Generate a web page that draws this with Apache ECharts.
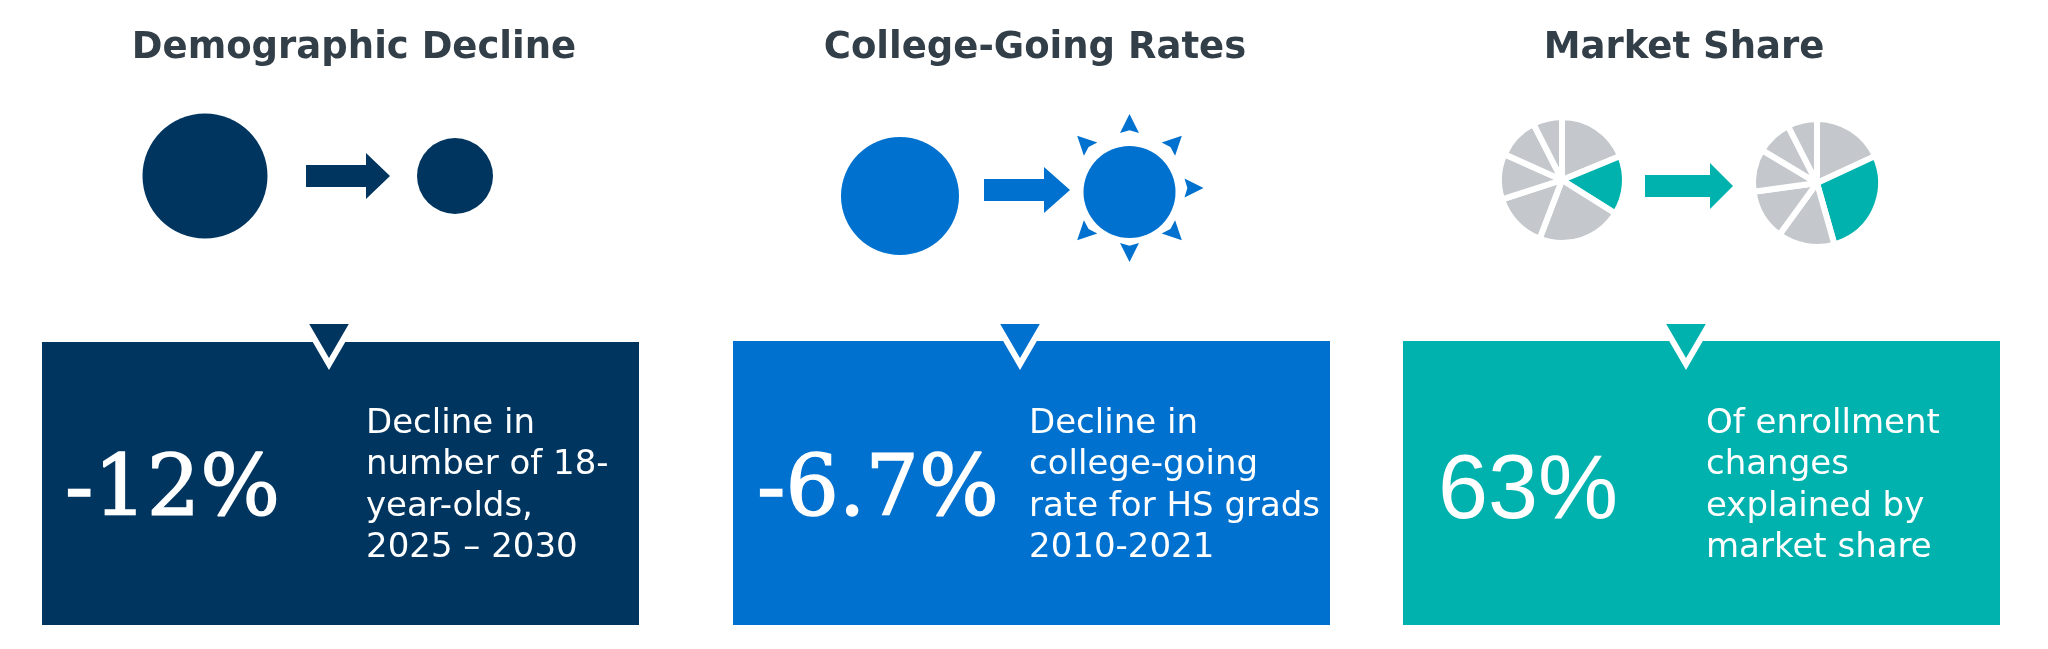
<!DOCTYPE html>
<html><head><meta charset="utf-8">
<style>html,body{margin:0;padding:0;background:#fff}#c{width:2048px;height:649px}</style>
<script src="https://cdn.jsdelivr.net/npm/echarts@6/dist/echarts.min.js"></script></head>
<body><div id="c"></div>
<script>
// DATA
const panelTitles = ['Demographic Decline', 'College-Going Rates', 'Market Share'];
const statValues = ['-12%', '-6.7%', '63%'];
const panel1Lines = ['Decline in', 'number of 18-', 'year-olds,', '2025 \u2013 2030'];
const panel2Lines = ['Decline in', 'college-going', 'rate for HS grads', '2010-2021'];
const panel3Lines = ['Of enrollment', 'changes', 'explained by', 'market share'];
const shareBefore = [18.8, 15.1, 21.9, 14.2, 11.7, 10.8, 7.5];
const shareAfter = [18.1, 27.5, 14.4, 12.8, 10.8, 8.9, 7.5];
const highlightedSlice = 1;

// STYLE + LAYOUT
const NAVY = '#003560', BLUE = '#0071CE', TEAL = '#00B2AE', GREY = '#C4C8CC', INK = '#323E48';
const panels = [
  {color: NAVY, titleX: 354, titleY: 48, box: [42, 342, 639, 625], notch: 329, statX: 65, statY: 493, statFont: 'DejaVu Serif', statSize: 84, statStroke: 1.5, textX: 366, lines: panel1Lines},
  {color: BLUE, titleX: 1035, titleY: 48, box: [733, 341, 1330, 625], notch: 1020, statX: 757, statY: 493, statFont: 'DejaVu Serif', statSize: 84, statStroke: 1.5, textX: 1029, lines: panel2Lines},
  {color: TEAL, titleX: 1684, titleY: 48, box: [1403, 341, 2000, 625], notch: 1686, statX: 1438, statY: 493, statFont: 'Liberation Sans', statSize: 90, statStroke: 0, textX: 1706, lines: panel3Lines}
];
const arrows = [
  {color: NAVY, x0: 306, x1: 390, head: 366, y: 176},
  {color: BLUE, x0: 984, x1: 1070, head: 1044, y: 190},
  {color: TEAL, x0: 1645, x1: 1733, head: 1710, y: 186}
];
const circles = [
  {x: 205, y: 176, d: 125, color: NAVY},
  {x: 455, y: 176, d: 76, color: NAVY},
  {x: 900, y: 196, d: 118, color: BLUE},
  {x: 1129.5, y: 192, d: 92, color: BLUE}
];
const ray = {x: 1129.5, y: 188, tip: 74, size: 19};
const rayDirections = [0, 45, 90, 135, 180, 225, 315];

const gfx = [];
panels.forEach((p, i) => {
  const [x0, y0, x1, y1] = p.box;
  gfx.push({type: 'rect', z: 1, shape: {x: x0, y: y0, width: x1 - x0, height: y1 - y0}, style: {fill: p.color}});
  gfx.push({type: 'polygon', z: 2, shape: {points: [[p.notch - 25, 321], [p.notch + 25, 321], [p.notch, 364]]},
    style: {fill: p.color, stroke: '#fff', lineWidth: 6, lineJoin: 'miter', miterLimit: 6}});
  gfx.push({type: 'text', z: 3, style: {text: panelTitles[i], x: p.titleX, y: p.titleY, fill: INK, align: 'center', verticalAlign: 'middle',
    fontFamily: 'DejaVu Sans', fontWeight: 'bold', fontSize: 37}});
  gfx.push({type: 'text', z: 3, style: {text: statValues[i], x: p.statX, y: p.statY, fill: '#fff', align: 'left', verticalAlign: 'middle',
    stroke: p.statStroke ? '#fff' : null, lineWidth: p.statStroke, fontFamily: p.statFont, fontSize: p.statSize}});
  p.lines.forEach((t, k) => gfx.push({type: 'text', z: 3, style: {text: t, x: p.textX, y: 424 + k * 41.5, fill: '#fff', align: 'left', verticalAlign: 'middle',
    fontFamily: 'DejaVu Sans', fontSize: 34}}));
});
arrows.forEach(a => gfx.push({type: 'polygon', z: 2, shape: {points: [
  [a.x0, a.y - 11], [a.head, a.y - 11], [a.head, a.y - 23], [a.x1, a.y], [a.head, a.y + 23], [a.head, a.y + 11], [a.x0, a.y + 11]
]}, style: {fill: a.color}}));

const sliceData = vals => vals.map((v, i) => ({value: v, itemStyle: {color: i === highlightedSlice ? TEAL : GREY}}));
const pie = (vals, cx, cy, r) => ({type: 'pie', center: [cx, cy], radius: [0, r], clockwise: true, startAngle: 90, silent: true,
  label: {show: false}, labelLine: {show: false}, animation: false,
  itemStyle: {borderColor: '#fff', borderWidth: 6}, data: sliceData(vals)});

const chart = echarts.init(document.getElementById('c'), null, {renderer: 'canvas'});
chart.setOption({
  animation: false, backgroundColor: '#fff',
  grid: {left: 0, right: 0, top: 0, bottom: 0},
  xAxis: {type: 'value', min: 0, max: 2048, show: false},
  yAxis: {type: 'value', min: 0, max: 649, inverse: true, show: false},
  graphic: gfx,
  series: [
    {type: 'scatter', silent: true, symbol: 'circle', data: circles.map(c => ({value: [c.x, c.y], symbolSize: c.d, itemStyle: {color: c.color, opacity: 1}}))},
    {type: 'scatter', silent: true, data: rayDirections.map(a => {
      const t = a * Math.PI / 180, dist = ray.tip - ray.size / 2;
      return {value: [ray.x + dist * Math.sin(t), ray.y - dist * Math.cos(t)], symbol: 'path://M0,-10L10,10L0,7L-10,10Z', symbolSize: ray.size, symbolRotate: -a, itemStyle: {color: BLUE, opacity: 1}};
    })},
    pie(shareBefore, 1562, 180, 63),
    pie(shareAfter, 1817, 183, 64)
  ]
});
</script></body></html>
